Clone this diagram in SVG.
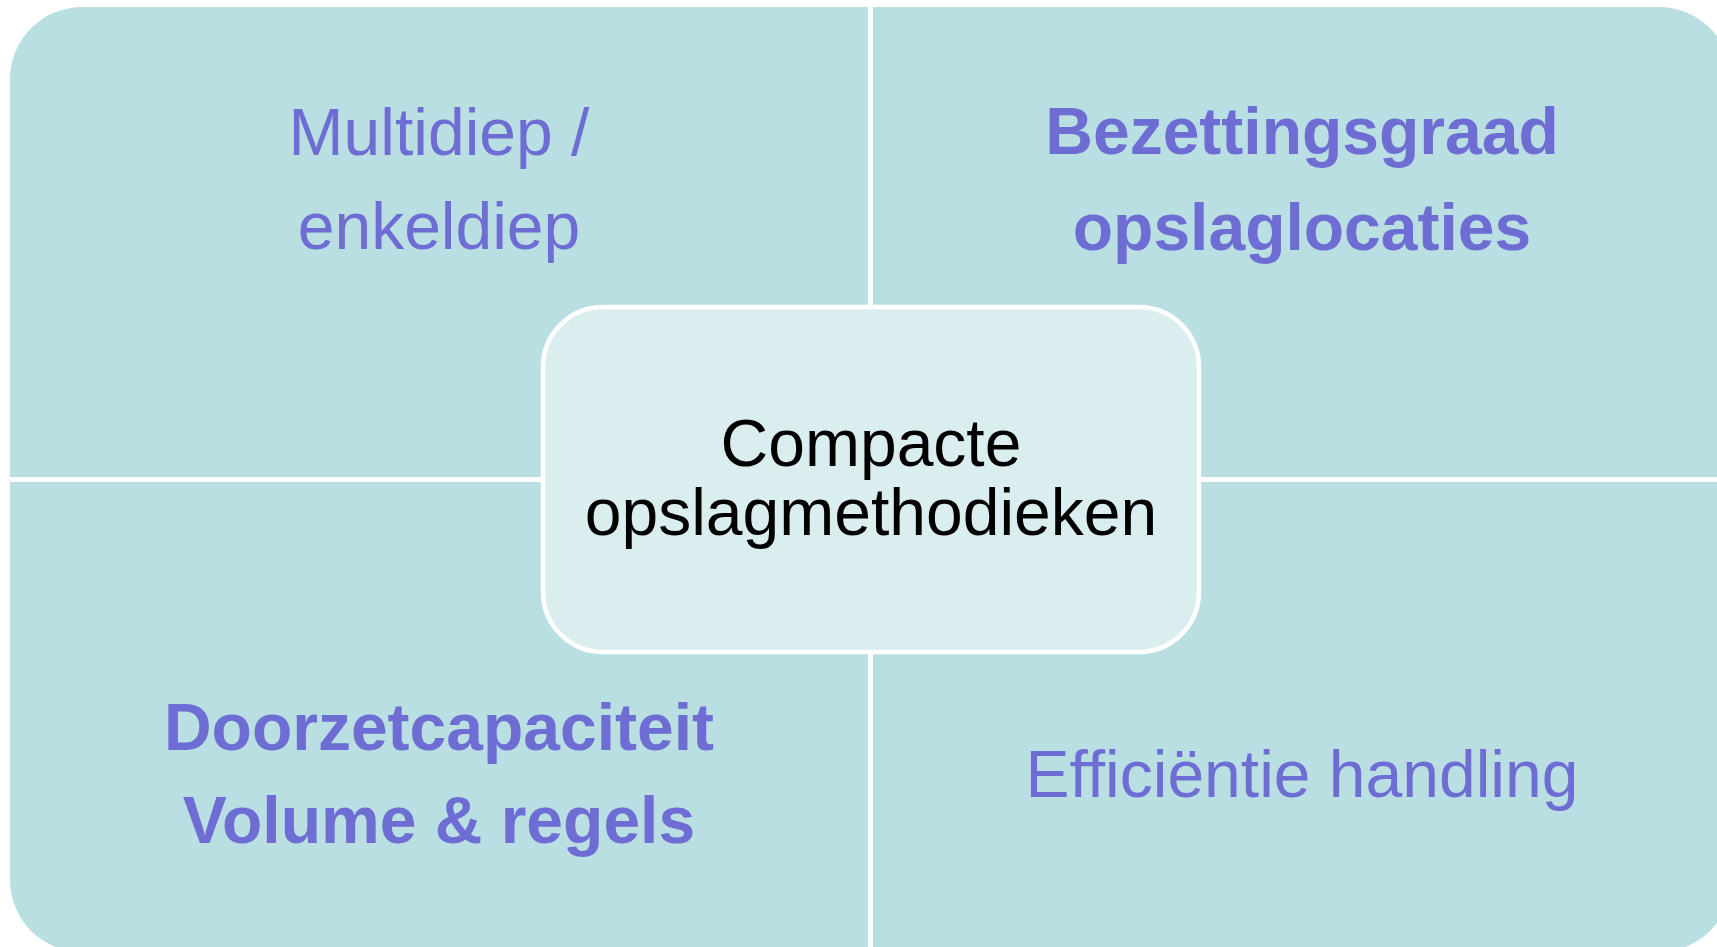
<svg xmlns="http://www.w3.org/2000/svg" width="1717" height="947" viewBox="0 0 1717 947">
<style>
.q{fill:#B9DFE2}
.t{font-family:"Liberation Sans",Arial,sans-serif;font-size:66px;fill:#6D6DD3;text-anchor:middle}
.b{font-weight:bold}
.c{font-family:"Liberation Sans",Arial,sans-serif;font-size:66px;fill:#000;text-anchor:middle}
</style>
<rect width="1717" height="947" fill="#fff"/>
<g id="tl">
<path class="q" d="M10,79 A72,72 0 0 1 82,7 H868 V477 H10 Z"/>
<text class="t" x="439" y="155">Multidiep /</text>
<text class="t" x="439" y="249">enkeldiep</text>
</g>
<g id="tr">
<path class="q" d="M873,7 H1659 A72,72 0 0 1 1731,79 V477 H873 Z"/>
<text class="t b" x="1302" y="154">Bezettingsgraad</text>
<text class="t b" x="1302" y="250">opslaglocaties</text>
</g>
<g id="bl">
<path class="q" d="M10,482 H868 V952 H82 A72,72 0 0 1 10,880 Z"/>
<text class="t b" x="439" y="750">Doorzetcapaciteit</text>
<text class="t b" x="439" y="843">Volume &amp; regels</text>
</g>
<g id="br">
<path class="q" d="M873,482 H1731 V880 A72,72 0 0 1 1659,952 H873 Z"/>
<text class="t" x="1302" y="797">Efficiëntie handling</text>
</g>
<g id="connectors"></g>
<g id="center">
<rect x="543" y="307" width="656" height="345" rx="60" ry="60" fill="#DAEDEF" stroke="#fff" stroke-width="4.5"/>
<text class="c" x="871" y="466">Compacte</text>
<text class="c" x="871" y="535">opslagmethodieken</text>
</g>
</svg>
